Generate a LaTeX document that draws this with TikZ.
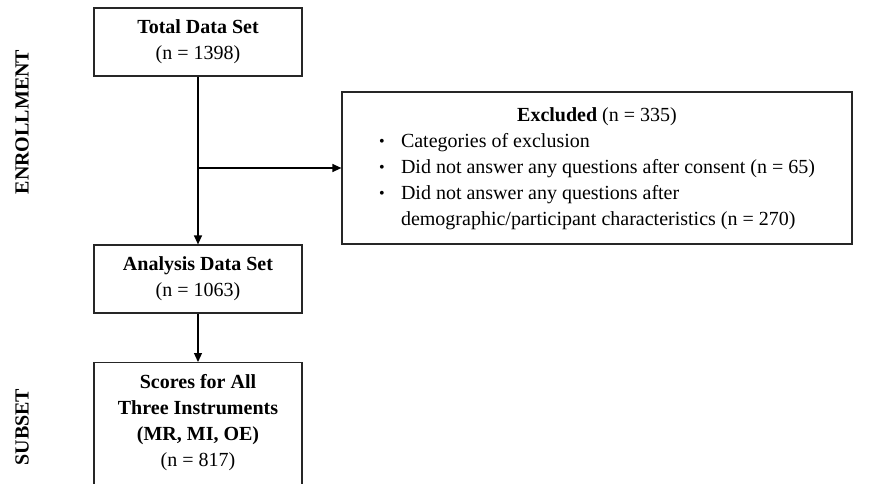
\documentclass[tikz,border=0pt]{standalone}
\usepackage{fontspec}
\setmainfont{Liberation Serif}
\usepackage{graphicx}
\usetikzlibrary{arrows.meta}

% small bullet followed by a fixed gap, and the matching indent
\newcommand\bulitem{\makebox[22pt][l]{\raisebox{0.1ex}{\scalebox{0.8}{\textbullet}}}}
\newcommand\bulindent{\hspace*{22pt}}

\begin{document}
\begin{tikzpicture}[x=1pt,y=-1pt,
  box/.style={draw=black!85, line width=1.2pt, inner sep=0pt, align=center,
    font=\fontsize{20}{26}\selectfont},
  plain/.style={inner sep=0pt, align=center, font=\fontsize{20}{26}\selectfont},
  side/.style={font=\fontsize{20}{24}\selectfont\bfseries, rotate=90},
  flow/.style={line width=1.2pt, -{Triangle[length=9pt,width=8pt]}}]
\clip (0,0) rectangle (884,483);
\useasboundingbox (0,0) rectangle (884,483);

% stage labels
\node[side] (enroll) at (22,122) {ENROLLMENT};
\node[side] (subset) at (22,427) {SUBSET};

% boxes
\node[box, minimum width=208, minimum height=68] (total) at (198,42)
  {\textbf{Total Data Set}\\(n = 1398)};
\node[box, minimum width=208, minimum height=68] (analysis) at (198,279)
  {\textbf{Analysis Data Set}\\(n = 1063)};
\node[box, minimum width=208, minimum height=170, anchor=north] (scores) at (198,362) {};
\node[plain] (scorestext) at (198,423)
  {\textbf{Scores for All}\\\textbf{Three Instruments}\\\textbf{(MR, MI, OE)}\\(n = 817)};
\node[box, minimum width=510, minimum height=152] (excluded) at (597,168)
  {\begin{tabular}{@{}l@{}}
   \multicolumn{1}{@{}c@{}}{\textbf{Excluded} (n = 335)}\\
   \bulitem Categories of exclusion\\
   \bulitem Did not answer any questions after consent (n = 65)\\
   \bulitem Did not answer any questions after\\
   \bulindent demographic/participant characteristics (n = 270)
   \end{tabular}};

% connectors
\coordinate (branch) at (total.south |- excluded.west);
\draw[flow] (total.south) -- (analysis.north);
\draw[flow] (branch) -- (excluded.west);
\draw[flow] (analysis.south) -- (scores.north);
\end{tikzpicture}
\end{document}
